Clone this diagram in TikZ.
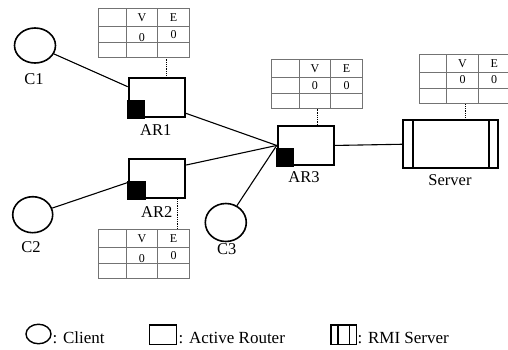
\documentclass[tikz,border=0pt]{standalone}
\usepackage{fontspec}
\setmainfont{Liberation Serif}
\usetikzlibrary{calc,shapes.geometric}

\tikzset{
  client/.style={ellipse, draw, line width=1.6pt, inner sep=0pt},
  router/.style={rectangle, draw, line width=1.9pt, inner sep=0pt, minimum width=56pt, minimum height=39pt},
  link/.style={line width=1.1pt},
  probe/.style={densely dotted, line width=0.8pt},
  lbl/.style={font=\fontsize{16.5}{16.5}\selectfont, inner sep=0pt},
  cell/.style={font=\fontsize{12}{12}\selectfont, inner sep=0pt},
  grid/.style={draw=black!55, line width=0.9pt},
  legend/.style={font=\fontsize{17}{17}\selectfont, inner sep=0pt, anchor=base west},
  legendshape/.style={draw, line width=1.4pt, inner sep=0pt},
}

% V/E table: #1 name, #2 top-left corner, #3 extra drop of the first "0"
\newcommand\vetable[3]{%
  \begin{scope}[shift={(#2)}]
    \node[rectangle, inner sep=0pt, minimum width=91pt, minimum height=49pt, anchor=north west] (#1) at (0,0) {};
    \draw[grid] (0,0) rectangle (91,49);
    \draw[grid] (0,18) -- (91,18) (0,34) -- (91,34);
    \draw[grid] (27.6,0) -- (27.6,49) (58.8,0) -- (58.8,49);
    \node[cell] (#1v) at (43.2,9.5) {V};
    \node[cell] (#1e) at (74.9,9.5) {E};
    \node[cell] (#1v0) at (43.2,{26+#3}) {0};
    \node[cell] (#1e0) at (74.9,26) {0};
  \end{scope}}

\begin{document}
\begin{tikzpicture}[x=1pt,y=-1pt]
  \useasboundingbox[fill=white] (0,0) rectangle (508,349);

  % clients
  \node[client, minimum width=41pt, minimum height=35pt] (c1) at (35,45.5) {};
  \node[client, minimum width=40pt, minimum height=36pt] (c2) at (32.7,214.7) {};
  \node[client, minimum width=41pt, minimum height=38pt] (c3) at (225.8,222.5) {};
  \node[lbl] (c1l) at (34,79) {C1};
  \node[lbl] (c2l) at (31,246.7) {C2};
  \node[lbl] (c3l) at (226.7,249.3) {C3};

  % active routers
  \node[router, anchor=north west] (ar1) at (127.7,77.3) {};
  \node[router, anchor=north west] (ar2) at (128.3,158.3) {};
  \node[router, anchor=north west] (ar3) at (276.7,125) {};
  \foreach \r in {ar1,ar2,ar3}
    \fill ($(\r.south west)+(-0.95,0.95)$) rectangle ++(18.5,-19);
  \node[lbl] (ar1l) at (155.7,130.5) {AR1};
  \node[lbl] (ar2l) at (156.7,212.5) {AR2};
  \node[lbl] (ar3l) at (304,177.5) {AR3};

  % RMI server
  \node[rectangle, draw, line width=1.9pt, inner sep=0pt, minimum width=94.4pt, minimum height=48pt, anchor=north west] (server) at (402.3,119.3) {};
  \draw[line width=1.9pt] ($(server.north west)+(10.4,0)$) -- ($(server.south west)+(10.4,0)$)
                          ($(server.north east)+(-9.4,0)$) -- ($(server.south east)+(-9.4,0)$);
  \node[lbl] (serverl) at (450,180) {Server};

  % links
  \draw[link] (c1) -- ($(ar1.north west)+(0,9.4)$);
  \draw[link] (c2) -- ($(ar2.north west)+(0,24)$);
  \draw[link] ($(ar1.south east)+(0,-5)$) -- (ar3.west);
  \draw[link] ($(ar2.north east)+(0,6.7)$) -- (ar3.west);
  \draw[link] (c3) -- (ar3.west);
  \draw[link] (ar3.east) -- (server.west);

  % state tables and their probes
  \vetable{t1}{98.7,8.3}{3}
  \vetable{t2}{98.7,229.3}{3}
  \vetable{t3}{271.7,59.3}{0}
  \vetable{t4}{419.3,54}{0}
  \coordinate (p1) at ($(ar1.north east)+(-19.7,0)$);
  \coordinate (p2) at ($(ar2.south east)+(-9,0)$);
  \coordinate (p3) at ($(ar3.north west)+(41,0)$);
  \coordinate (p4) at ($(server.north west)+(63.4,0)$);
  \draw[probe] (p1) -- (p1 |- t1.south);
  \draw[probe] (p2) -- (p2 |- t2.north);
  \draw[probe] (p3) -- (p3 |- t3.south);
  \draw[probe] (p4) -- (p4 |- t4.south);

  % legend
  \node[legendshape, ellipse, minimum width=25pt, minimum height=19.5pt] (lc) at (38.5,334) {};
  \node[legend] (lct) at (52.5,343) {: Client};
  \node[legendshape, rectangle, minimum width=27.4pt, minimum height=19.3pt] (lr) at (163,334.7) {};
  \node[legend] (lrt) at (178.5,343) {: Active Router};
  \node[legendshape, rectangle, minimum width=25.7pt, minimum height=19.3pt] (ls) at (343.8,334.7) {};
  \draw[line width=1.4pt] ($(ls.north west)+(7.7,0)$) -- ($(ls.south west)+(7.7,0)$)
                          ($(ls.north east)+(-7.7,0)$) -- ($(ls.south east)+(-7.7,0)$);
  \node[legend] (lst) at (357.5,343) {: RMI Server};
\end{tikzpicture}
\end{document}
